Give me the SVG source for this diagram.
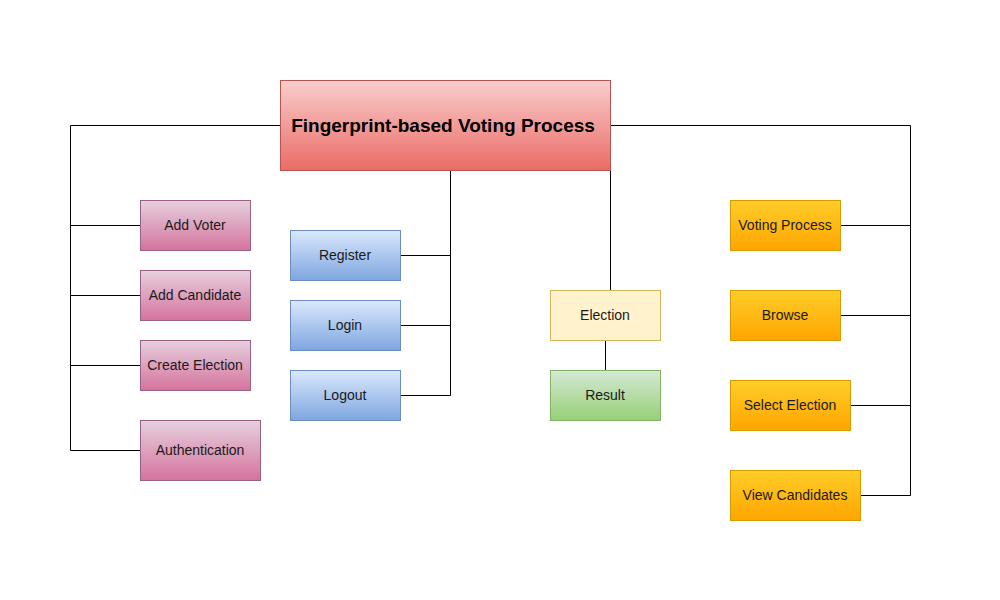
<svg xmlns="http://www.w3.org/2000/svg" width="1000" height="600" viewBox="0 0 1000 600">
<defs>
<linearGradient id="gRed" x1="0" y1="0" x2="0" y2="1"><stop offset="0" stop-color="#f8cecc"/><stop offset="1" stop-color="#ea6b66"/></linearGradient>
<linearGradient id="gPink" x1="0" y1="0" x2="0" y2="1"><stop offset="0" stop-color="#e6d0de"/><stop offset="1" stop-color="#d5739d"/></linearGradient>
<linearGradient id="gBlue" x1="0" y1="0" x2="0" y2="1"><stop offset="0" stop-color="#dae8fc"/><stop offset="1" stop-color="#7ea6e0"/></linearGradient>
<linearGradient id="gGreen" x1="0" y1="0" x2="0" y2="1"><stop offset="0" stop-color="#d5e8d4"/><stop offset="1" stop-color="#97d077"/></linearGradient>
<linearGradient id="gOrange" x1="0" y1="0" x2="0" y2="1"><stop offset="0" stop-color="#ffcd28"/><stop offset="1" stop-color="#ffa500"/></linearGradient>
</defs>
<style>
text{font-family:"Liberation Sans",Arial,sans-serif;font-size:14px;fill:#1a1a1a;text-anchor:middle;dominant-baseline:central}
.t{font-size:19px;font-weight:bold;fill:#000}
.red{fill:url(#gRed);stroke:#b85450}
.pink{fill:url(#gPink);stroke:#996185}
.blue{fill:url(#gBlue);stroke:#6c8ebf}
.yel{fill:#fff2cc;stroke:#d6b656}
.grn{fill:url(#gGreen);stroke:#82b366}
.org{fill:url(#gOrange);stroke:#d79b00}
.c path{fill:none;stroke:#000;stroke-width:1}
</style>
<rect width="1000" height="600" fill="#fff"/>
<g class="c" id="connectors" transform="translate(0.5,0.5)">
<path d="M280 125H70V450"/>
<path d="M70 225H140M70 295H140M70 365H140M70 450H140"/>
<path d="M450 170V395"/>
<path d="M400 255H450M400 325H450M400 395H450"/>
<path d="M610 170V290"/>
<path d="M605 340V370"/>
<path d="M610 125H910V495"/>
<path d="M840 225H910M840 315H910M850 405H910M860 495H910"/>
</g>
<g id="title"><rect class="red" x="280.5" y="80.5" width="330" height="90"/><text class="t" x="443" y="125">Fingerprint-based Voting Process</text></g>
<g id="addVoter"><rect class="pink" x="140.5" y="200.5" width="110" height="50"/><text x="195" y="225">Add Voter</text></g>
<g id="addCandidate"><rect class="pink" x="140.5" y="270.5" width="110" height="50"/><text x="195" y="295">Add Candidate</text></g>
<g id="createElection"><rect class="pink" x="140.5" y="340.5" width="110" height="50"/><text x="195" y="365">Create Election</text></g>
<g id="authentication"><rect class="pink" x="140.5" y="420.5" width="120" height="60"/><text x="200" y="450">Authentication</text></g>
<g id="register"><rect class="blue" x="290.5" y="230.5" width="110" height="50"/><text x="345" y="255">Register</text></g>
<g id="login"><rect class="blue" x="290.5" y="300.5" width="110" height="50"/><text x="345" y="325">Login</text></g>
<g id="logout"><rect class="blue" x="290.5" y="370.5" width="110" height="50"/><text x="345" y="395">Logout</text></g>
<g id="election"><rect class="yel" x="550.5" y="290.5" width="110" height="50"/><text x="605" y="315">Election</text></g>
<g id="result"><rect class="grn" x="550.5" y="370.5" width="110" height="50"/><text x="605" y="395">Result</text></g>
<g id="votingProcess"><rect class="org" x="730.5" y="200.5" width="110" height="50"/><text x="785" y="225">Voting Process</text></g>
<g id="browse"><rect class="org" x="730.5" y="290.5" width="110" height="50"/><text x="785" y="315">Browse</text></g>
<g id="selectElection"><rect class="org" x="730.5" y="380.5" width="120" height="50"/><text x="790" y="405">Select Election</text></g>
<g id="viewCandidates"><rect class="org" x="730.5" y="470.5" width="130" height="50"/><text x="795" y="495">View Candidates</text></g>
</svg>
